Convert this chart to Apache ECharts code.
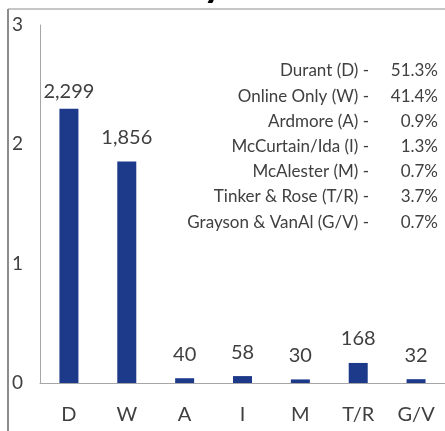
<!DOCTYPE html>
<html>
<head>
<meta charset="utf-8">
<script src="https://cdn.jsdelivr.net/npm/echarts@6/dist/echarts.min.js"></script>
<style>html,body{margin:0;padding:0;background:#fff;}#c{width:445px;height:431px;}</style>
</head>
<body>
<div id="c"></div>
<script>
const categories = ['D', 'W', 'A', 'I', 'M', 'T/R', 'G/V'];
const counts = [2299, 1856, 40, 58, 30, 168, 32];
const campusNames = ['Durant (D) -', 'Online Only (W) -', 'Ardmore (A) -', 'McCurtain/Ida (I) -', 'McAlester (M) -', 'Tinker & Rose (T/R) -', 'Grayson & VanAl (G/V) -'];
const shares = ['51.3%', '41.4%', '0.9%', '1.3%', '0.7%', '3.7%', '0.7%'];
const yTicks = [0, 1000, 2000, 3000];
const titleText = 'Enrollment Summary';

const FONT = 'Lato';
const TXT = '#404040';
const chart = echarts.init(document.getElementById('c'), null, {renderer: 'canvas'});

const graphics = [];
// clipped title (only the descender shows)
graphics.push({type: 'text', x: 224, y: 3, style: {text: titleText, font: 'bold 40px ' + FONT, fill: '#000', textAlign: 'right', textVerticalAlign: 'bottom'}, z: 5});
// frame
graphics.push({type: 'rect', shape: {x: 0, y: 9, width: 445, height: 422}, style: {fill: '#fff'}, z: 6, silent: true});
graphics.push({type: 'line', shape: {x1: 8, y1: 9, x2: 445, y2: 9}, style: {stroke: '#8c8c8c', lineWidth: 1}, z: 10});
graphics.push({type: 'line', shape: {x1: 8, y1: 9, x2: 8, y2: 431}, style: {stroke: '#8c8c8c', lineWidth: 2}, z: 10});
campusNames.forEach((n, i) => {
  const y = 71 + i * 25.2;
  graphics.push({type: 'text', x: 369, y: y, style: {text: n, font: '17px ' + FONT, fill: TXT, textAlign: 'right', textVerticalAlign: 'middle'}, z: 10});
  graphics.push({type: 'text', x: 438, y: y, style: {text: shares[i], font: '17px ' + FONT, fill: TXT, textAlign: 'right', textVerticalAlign: 'middle'}, z: 10});
});

const barData = counts.map((v, i) => i === 0 ? {value: v, label: {distance: 7}} : v);

chart.setOption({
  animation: false,
  textStyle: {fontFamily: FONT},
  grid: {left: 40, top: 25, bottom: 48, right: -4, containLabel: false, z: 8},
  xAxis: {
    type: 'category', data: categories, z: 8,
    axisLine: {show: true, lineStyle: {color: '#a6a6a6', width: 1}},
    axisTick: {show: false},
    axisLabel: {color: TXT, fontSize: 20, fontFamily: FONT, margin: 22, interval: 0}
  },
  yAxis: {
    type: 'value', min: yTicks[0], max: yTicks[yTicks.length - 1], interval: 1000, z: 8,
    axisLine: {show: true, lineStyle: {color: '#a6a6a6', width: 1}},
    axisTick: {show: false},
    splitLine: {show: false},
    axisLabel: {color: TXT, fontSize: 19, fontFamily: FONT, align: 'left', margin: 28, formatter: v => String(v / 1000)}
  },
  series: [{
    type: 'bar', data: barData, barWidth: 19, z: 8,
    itemStyle: {color: '#1d3a8a'},
    label: {show: true, position: 'top', distance: 14, color: TXT, fontSize: 20, fontFamily: FONT,
      formatter: p => p.value.toLocaleString('en-US')}
  }],
  graphic: graphics
});
</script>
</body>
</html>
